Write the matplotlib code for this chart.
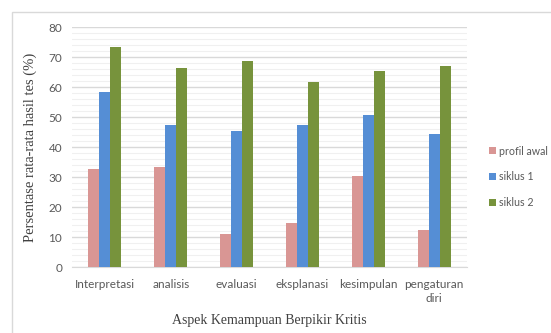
import matplotlib.pyplot as plt
import numpy as np
from matplotlib.patches import Rectangle

categories = ['Interpretasi', 'analisis', 'evaluasi', 'eksplanasi', 'kesimpulan', 'pengaturan\ndiri']
profil_awal = [32.7, 33.4, 11.0, 14.6, 30.3, 12.3]
siklus_1 = [58.4, 47.3, 45.2, 47.4, 50.7, 44.3]
siklus_2 = [73.2, 66.3, 68.6, 61.6, 65.4, 67.0]
series_names = ['profil awal', 'siklus 1', 'siklus 2']
colors = ['#D99694', '#558ED5', '#77933C']

fig = plt.figure(figsize=(5.51, 3.33), dpi=100)
W, H = 551, 333
ax = fig.add_axes([72 / W, 1 - 267 / H, (467 - 72) / W, (267 - 27) / H])

# outer chart frame
fig.patches.append(Rectangle((12 / W, -0.1), 1.2, 1 - 12 / H + 0.1, transform=fig.transFigure,
                             fill=False, edgecolor='#D9D9D9', linewidth=1))

x = np.arange(len(categories))
w = 0.167
for i, (vals, name) in enumerate(zip([profil_awal, siklus_1, siklus_2], series_names)):
    ax.bar(x + (i - 1) * w, vals, w, color=colors[i], label=name, zorder=3)

ax.set_xlim(-0.5, len(categories) - 0.5)
ax.set_ylim(0, 80)
ax.set_yticks(range(0, 81, 10))
ax.set_yticks(range(0, 81, 2), minor=True)
ax.grid(axis='y', which='major', color='#D9D9D9', linewidth=1, zorder=0)
ax.grid(axis='y', which='minor', color='#F0F0F0', linewidth=0.8, zorder=0)
ax.set_xticks(x)
ax.set_xticklabels(categories, family='Lato', fontsize=8.5, color='#595959', linespacing=1.3)
for lab in ax.get_yticklabels():
    lab.set_family('Lato')
ax.tick_params(axis='y', labelsize=8.5, labelcolor='#595959', length=0, pad=7)
ax.tick_params(axis='x', length=0, pad=9, which='both')
ax.tick_params(axis='y', which='minor', length=0)
for s in ['top', 'right', 'left']:
    ax.spines[s].set_visible(False)
ax.spines['bottom'].set_color('#D9D9D9')

ax.set_ylabel('Persentase rata-rata hasil tes (%)', family='Liberation Serif', fontsize=10.5, color='#404040', labelpad=8)
ax.set_xlabel('Aspek Kemampuan Berpikir Kritis', family='Liberation Serif', fontsize=10, color='#404040', labelpad=7)

leg = ax.legend(loc='center left', bbox_to_anchor=(486 / W, 1 - 177 / H), bbox_transform=fig.transFigure,
                frameon=False, prop={'family': 'Lato', 'size': 7.7}, handlelength=0.6, handleheight=0.6,
                handletextpad=0.35, labelspacing=1.4, labelcolor='#595959', borderaxespad=0, borderpad=0.3)

fig.savefig('out.png', dpi=100)
